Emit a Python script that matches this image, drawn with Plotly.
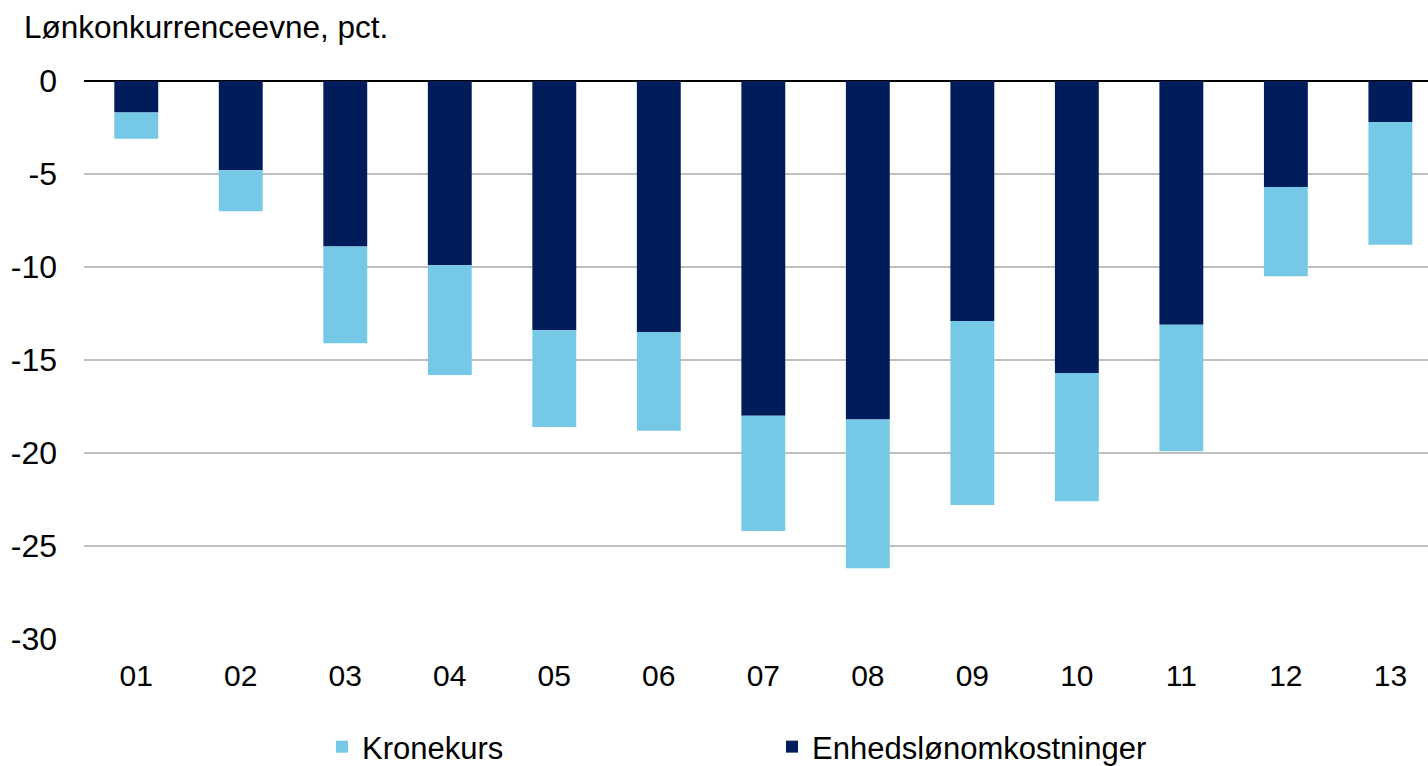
import plotly.graph_objects as go

years = ["01", "02", "03", "04", "05", "06", "07", "08", "09", "10", "11", "12", "13"]
enhedslon = [-1.7, -4.8, -8.9, -9.9, -13.4, -13.5, -18.0, -18.2, -12.9, -15.7, -13.1, -5.7, -2.2]
kronekurs = [-1.4, -2.2, -5.2, -5.9, -5.2, -5.3, -6.2, -8.0, -9.9, -6.9, -6.8, -4.8, -6.6]

font = "Liberation Sans, Arial, sans-serif"

fig = go.Figure()
fig.add_trace(go.Bar(x=years, y=enhedslon, name="Enhedslønomkostninger",
                     marker=dict(color="#001C5A", line=dict(width=0))))
fig.add_trace(go.Bar(x=years, y=kronekurs, name="Kronekurs",
                     marker=dict(color="#76C9E6", line=dict(width=0))))

fig.update_layout(
    width=1428, height=766,
    barmode="relative", bargap=0.58,
    plot_bgcolor="white", paper_bgcolor="white",
    margin=dict(l=84, r=0, t=81, b=127),
    font=dict(family=font, size=30, color="black"),
    title=dict(text="Lønkonkurrenceevne, pct.", xref="container", x=24 / 1428,
               y=1 - 27 / 766, yanchor="middle", xanchor="left",
               font=dict(family=font, size=31.5, color="black")),
    legend=dict(orientation="h", traceorder="reversed", xref="container", yref="container",
                x=322 / 1428, y=1 - 747 / 766, xanchor="left", yanchor="middle",
                entrywidth=405, font=dict(family=font, size=31, color="black")),
    showlegend=True,
)
fig.update_xaxes(type="category", range=[-0.5, 12.36], showline=False, ticks="",
                 ticklabelstandoff=16, tickfont=dict(size=30))
fig.update_yaxes(range=[-30, 0], tickvals=[0, -5, -10, -15, -20, -25, -30],
                 ticktext=["0", "-5", "-10", "-15", "-20", "-25", "-30"],
                 showgrid=True, gridcolor="#BFBFBF", gridwidth=1.5,
                 zeroline=True, zerolinecolor="black", zerolinewidth=2,
                 ticks="", ticklabelstandoff=26, tickfont=dict(size=32))

fig.write_html("out.html", config={"displayModeBar": False},
               post_script="document.body.style.margin='0';")
